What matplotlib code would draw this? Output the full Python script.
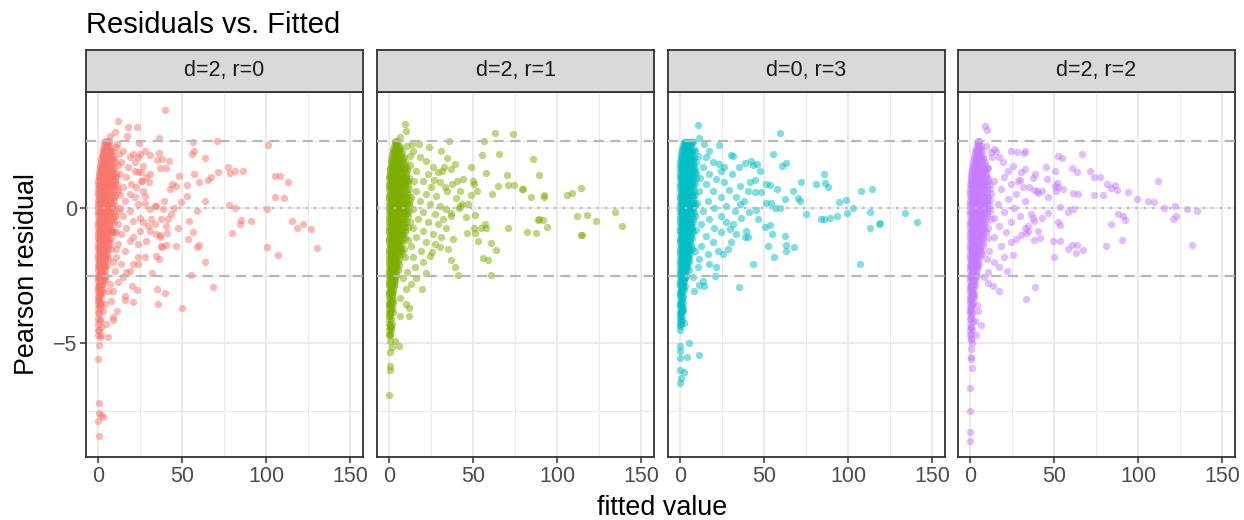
import matplotlib.pyplot as plt

plt.rcParams['font.family'] = ['Liberation Sans', 'DejaVu Sans']

panel_labels = ["d=2, r=0", "d=2, r=1", "d=0, r=3", "d=2, r=2"]
colors = ["#F8766D", "#7CAE00", "#00BFC4", "#C77CFF"]

# dense part near zero, read row by row: (pearson residual, [fitted values])
core_d2r0 = [
    (2.5, [4.2, 5.2, 6.3]), (2.3, [3.5, 4.6, 5.8, 7.2]), (2.1, [2.8, 3.9, 5.1, 6.4, 7.9]),
    (1.9, [2.2, 3.3, 4.5, 5.8, 7.2, 8.8]), (1.7, [1.7, 2.8, 4.0, 5.3, 6.7, 8.2, 10.0]),
    (1.5, [1.2, 2.3, 3.5, 4.8, 6.2, 7.7, 9.4]), (1.3, [0.8, 1.9, 3.1, 4.4, 5.8, 7.3, 8.9, 10.8]),
    (1.1, [0.5, 1.5, 2.7, 4.0, 5.4, 6.9, 8.5, 10.3]), (0.9, [0.2, 1.2, 2.3, 3.6, 5.0, 6.5, 8.1, 9.9]),
    (0.7, [0.0, 1.0, 2.1, 3.3, 4.7, 6.2, 7.8, 9.6, 11.5]), (0.5, [0.2, 1.2, 2.3, 3.6, 5.0, 6.6, 8.3, 10.1]),
    (0.3, [0.0, 1.0, 2.1, 3.3, 4.7, 6.2, 7.9, 9.7]), (0.1, [0.2, 1.2, 2.3, 3.6, 5.0, 6.6, 8.3, 10.2]),
    (-0.1, [0.0, 1.0, 2.1, 3.3, 4.7, 6.2, 7.8, 9.6]), (-0.3, [0.2, 1.2, 2.3, 3.6, 5.0, 6.5, 8.2, 10.0]),
    (-0.5, [0.0, 1.0, 2.1, 3.3, 4.6, 6.1, 7.7, 9.4]), (-0.7, [0.2, 1.2, 2.3, 3.5, 4.9, 6.4, 8.0]),
    (-0.9, [0.0, 1.0, 2.0, 3.2, 4.5, 6.0, 7.5, 9.2]), (-1.1, [0.2, 1.1, 2.2, 3.4, 4.7, 6.2, 7.8]),
    (-1.3, [0.0, 1.0, 2.0, 3.1, 4.4, 5.8, 7.3]), (-1.5, [0.2, 1.1, 2.1, 3.3, 4.6, 6.0, 7.6]),
    (-1.7, [0.0, 1.0, 1.9, 3.0, 4.2, 5.6]), (-1.9, [0.2, 1.1, 2.0, 3.1, 4.4, 5.8]),
    (-2.1, [0.0, 0.9, 1.8, 2.9, 4.1, 5.3]), (-2.3, [0.2, 1.0, 1.9, 3.0, 4.2]),
    (-2.5, [0.0, 0.9, 1.7, 2.7, 3.8, 5.0]), (-2.7, [0.2, 1.0, 1.8, 2.8, 3.9]),
    (-2.9, [0.0, 0.9, 1.6, 2.6]), (-3.1, [0.2, 1.0, 1.8, 2.8]), (-3.3, [0.0, 0.9, 1.6]),
    (-3.5, [0.2, 1.0, 1.9]), (-3.7, [0.0, 1.2]), (-3.9, [0.2, 0.9]), (-4.1, [0.0, 1.0]),
    (-4.3, [0.2]), (-4.5, [0.0, 0.8]), (-4.7, [0.2]),
]
core2_d2r0 = [
    (2.4, [3.9, 4.9, 6.0]), (2.2, [3.1, 4.2, 5.4, 6.8]), (2.0, [2.5, 3.6, 4.8, 6.1, 7.6]),
    (1.8, [1.9, 3.0, 4.2, 5.5, 7.0, 8.6]), (1.6, [1.4, 2.5, 3.7, 5.0, 6.4, 8.0]),
    (1.4, [1.0, 2.1, 3.3, 4.6, 6.0, 7.5, 9.2]), (1.2, [0.6, 1.7, 2.9, 4.2, 5.6, 7.1, 8.7]),
    (1.0, [0.3, 1.4, 2.5, 3.8, 5.2, 6.7, 8.3, 10.0]), (0.8, [0.6, 1.6, 2.8, 4.2, 5.7, 7.2, 8.9]),
    (0.6, [0.1, 1.1, 2.2, 3.5, 4.9, 6.4, 8.0]), (0.4, [0.6, 1.6, 2.8, 4.2, 5.7, 7.2, 8.9]),
    (0.2, [0.1, 1.1, 2.2, 3.5, 4.9, 6.4, 8.0]), (0.0, [0.6, 1.6, 2.8, 4.2, 5.7, 7.2, 8.9]),
    (-0.2, [0.1, 1.1, 2.2, 3.5, 4.9, 6.4, 8.0]), (-0.4, [0.6, 1.6, 2.8, 4.2, 5.7, 7.2, 8.8]),
    (-0.6, [0.1, 1.1, 2.2, 3.5, 4.9, 6.4]), (-0.8, [0.6, 1.6, 2.7, 4.0, 5.4, 6.9, 8.5]),
    (-1.0, [0.1, 1.1, 2.1, 3.3, 4.7, 6.2]), (-1.2, [0.6, 1.5, 2.6, 3.8, 5.1, 6.5]),
    (-1.4, [0.1, 1.0, 2.0, 3.2, 4.5, 5.9]), (-1.6, [0.6, 1.5, 2.5, 3.7, 4.9]),
    (-1.8, [0.1, 1.0, 2.0, 3.1, 4.3, 5.6]), (-2.0, [0.6, 1.5, 2.5, 3.6]),
    (-2.2, [0.1, 1.0, 1.9, 3.0, 4.1]), (-2.4, [0.5, 1.4, 2.3, 3.3]),
    (-2.6, [0.1, 0.9, 1.8, 2.8]), (-2.8, [0.5, 1.3, 2.2]), (-3.0, [0.1, 0.9, 1.8]),
    (-3.2, [0.5, 1.4]), (-3.4, [0.1, 0.9]), (-3.6, [0.5, 1.4]),
]
spread_d2r0 = [
    (40.0, 3.64), (12.1, 3.21), (17.7, 3.02), (23.4, 3.01), (9.9, 2.83), (6.9, 2.68),
    (17.1, 2.68), (36.5, 2.59), (24.4, 2.41), (11.1, 2.37), (56.3, 2.46), (70.6, 2.49),
    (101.2, 2.32), (56.9, 2.12), (55.9, 2.02), (36.1, 2.04), (28.2, 2.12), (30.8, 1.96),
    (25.2, 2.02), (63.7, 1.84), (35.3, 1.78), (38.1, 1.81), (42.3, 1.74), (36.7, 1.48),
    (40.3, 1.49), (77.6, 1.53), (81.3, 1.38), (86.1, 1.38), (78.4, 1.30), (71.2, 1.35),
    (67.5, 1.16), (65.5, 1.05), (60.3, 0.98), (57.3, 1.25), (48.0, 1.17), (43.8, 0.90),
    (46.4, 0.80), (42.7, 0.72), (53.2, 0.86), (53.2, 0.44), (49.4, 0.22), (63.9, 0.26),
    (105.2, 1.19), (108.3, 1.20), (113.3, 0.96), (105.2, 0.42), (110.9, 0.38), (31.2, 1.26),
    (26.0, 0.99), (39.5, 0.25), (45.2, 0.02), (58.9, -0.12), (78.0, 0.12), (81.3, 0.02),
    (100.6, -0.02), (85.1, -0.43), (84.3, -0.60), (91.3, -0.48), (80.0, -0.91), (115.5, -0.49),
    (118.3, -0.72), (122.2, -0.60), (126.9, -0.79), (130.2, -1.47), (100.4, -1.44), (107.0, -1.73),
    (54.4, -0.49), (47.8, -0.74), (56.3, -0.88), (53.4, -1.15), (58.9, -1.43), (60.1, -1.37),
    (46.4, -1.40), (63.9, -2.01), (40.3, -1.37), (37.9, -1.44), (36.3, -1.89), (34.3, -1.78),
    (55.4, -2.48), (68.7, -2.91), (49.8, -3.69), (32.1, -2.41), (35.1, -3.01), (40.1, -3.14),
    (35.5, -3.57), (23.4, -3.02), (20.2, -2.88), (21.0, -3.48), (15.9, -3.26), (15.9, -3.40),
    (11.5, -3.83), (9.1, -4.02), (9.1, -4.14), (6.2, -4.78), (2.0, -4.69), (1.0, -4.77),
    (0.6, -5.06), (0.0, -5.60), (0.4, -7.22), (0.4, -7.60), (1.6, -7.67), (3.0, -7.75),
    (0.0, -7.88), (0.6, -8.46),
    (23.8, 1.88), (26.8, 1.57), (25.8, 1.32), (28.8, 1.14), (30.2, 0.95), (21.8, 1.69),
    (21.8, 1.38), (23.8, 1.32), (27.8, 0.46), (26.8, 0.64), (27.8, 0.17), (30.8, -0.04),
    (33.7, 0.09), (33.7, -0.59), (31.7, -0.41), (30.8, -0.84), (34.7, -0.96), (36.7, -1.09),
    (37.7, -1.40), (28.8, -1.21), (23.8, -1.33), (20.8, -1.09), (27.8, -1.83), (23.8, -1.83),
    (20.8, -2.07), (18.8, -2.32), (23.8, -2.07), (16.9, -2.38), (14.9, -2.57), (24.8, -0.35),
    (26.8, -0.53), (29.8, -0.65), (37.7, -0.41), (40.7, -0.65), (41.3, -0.94), (36.7, -0.99),
    (43.7, -0.22), (41.7, -0.41), (38.7, -0.04), (34.7, 0.09),
    (10.9, 2.25), (14.9, 2.12), (18.8, 1.88), (13.9, 1.69), (17.9, 1.51), (20.8, 2.00),
    (12.9, 1.26), (16.9, 1.14), (19.8, 0.89), (14.9, 0.77), (11.9, 0.64), (18.8, 0.52),
    (15.9, 0.27), (21.8, 0.40), (12.9, 0.02), (18.8, -0.10), (23.8, 0.15), (14.9, -0.28),
    (20.8, -0.47), (11.9, -0.59), (16.9, -0.72), (13.9, -0.96), (18.8, -1.21), (11.9, -1.33),
    (15.9, -1.58), (10.9, -1.83), (13.9, -2.07), (9.9, -2.32), (11.9, -2.75), (8.9, -3.06),
    (7.9, -3.43), (24.8, -0.84), (22.8, 0.77), (25.8, 1.01),
    (4.0, -3.56), (6.0, -3.06), (3.0, -3.80), (1.0, -4.17), (5.0, -4.30), (2.0, -4.42),
    (6.9, -2.81), (4.0, -2.63), (9.5, 1.80), (10.5, 1.20), (9.8, 0.40), (10.2, -0.30),
    (9.5, -0.90), (10.8, -1.50), (9.0, -2.00), (12.0, 1.60), (11.5, 0.90), (12.5, -0.10),
    (11.0, -0.90), (13.0, 0.50), (8.8, 2.10), (12.5, 2.00),
]

core_d2r1 = [
    (2.5, [3.8, 4.6]), (2.3, [3.0, 4.1, 5.4, 6.8]), (2.1, [2.3, 3.4, 4.7, 6.1, 7.7]),
    (1.9, [1.7, 2.8, 4.1, 5.5, 7.0, 8.7]), (1.7, [1.2, 2.3, 3.5, 4.9, 6.4, 8.0, 9.8]),
    (1.5, [0.8, 1.8, 3.0, 4.3, 5.8, 7.4, 9.1, 11.0]), (1.3, [0.5, 1.5, 2.6, 3.9, 5.3, 6.8, 8.5, 10.3]),
    (1.1, [0.2, 1.2, 2.3, 3.6, 5.0, 6.5, 8.1, 9.9, 11.9]),
    (0.9, [0.0, 1.0, 2.1, 3.3, 4.7, 6.2, 7.8, 9.6, 11.4]),
    (0.7, [0.2, 1.2, 2.3, 3.6, 5.0, 6.6, 8.3, 10.1, 12.2]),
    (0.5, [0.0, 1.0, 2.1, 3.3, 4.7, 6.2, 7.9, 9.7, 11.6]),
    (0.3, [0.2, 1.2, 2.3, 3.6, 5.0, 6.6, 8.3, 10.2, 12.3]),
    (0.1, [0.0, 1.0, 2.1, 3.3, 4.7, 6.2, 7.9, 9.7, 11.7]),
    (-0.1, [0.2, 1.2, 2.3, 3.6, 5.0, 6.5, 8.2, 10.0, 12.0]),
    (-0.3, [0.0, 1.0, 2.1, 3.3, 4.7, 6.2, 7.8, 9.6, 11.5]),
    (-0.5, [0.2, 1.2, 2.3, 3.5, 4.9, 6.4, 8.1, 9.9]),
    (-0.7, [0.0, 1.0, 2.1, 3.3, 4.6, 6.1, 7.7, 9.4, 11.3]),
    (-0.9, [0.2, 1.1, 2.2, 3.4, 4.8, 6.3, 7.9, 9.7]), (-1.1, [0.0, 1.0, 2.0, 3.2, 4.5, 6.0, 7.6, 9.3]),
    (-1.3, [0.2, 1.1, 2.2, 3.4, 4.7, 6.2, 7.8]), (-1.5, [0.0, 1.0, 2.0, 3.1, 4.4, 5.8, 7.3, 9.0]),
    (-1.7, [0.2, 1.1, 2.1, 3.3, 4.6, 6.0, 7.5]), (-1.9, [0.0, 1.0, 1.9, 3.0, 4.3, 5.7]),
    (-2.1, [0.2, 1.1, 2.0, 3.1, 4.4, 5.8]), (-2.3, [0.0, 0.9, 1.8, 2.9, 4.1, 5.4]),
    (-2.5, [0.2, 1.0, 1.9, 3.0, 4.2]), (-2.7, [0.0, 0.9, 1.8, 2.8, 3.9]),
    (-2.9, [0.2, 1.0, 1.9, 2.9]), (-3.1, [0.0, 0.9, 1.7, 2.7]), (-3.3, [0.2, 1.0, 1.9]),
    (-3.5, [0.0, 0.9, 1.8, 2.7]), (-3.7, [0.2, 1.0, 1.9]), (-3.9, [0.0, 0.9]),
    (-4.1, [0.2, 1.1]), (-4.3, [0.0, 0.9, 1.8]), (-4.5, [0.2, 1.0]), (-4.7, [0.0, 0.8]),
]
core2_d2r1 = [
    (2.4, [3.4, 4.4]), (2.2, [2.7, 3.8, 5.0, 6.4]), (2.0, [2.0, 3.1, 4.4, 5.8, 7.3]),
    (1.8, [1.5, 2.6, 3.8, 5.2, 6.7, 8.3]), (1.6, [1.0, 2.1, 3.3, 4.6, 6.1, 7.7, 9.4]),
    (1.4, [0.6, 1.7, 2.8, 4.1, 5.6, 7.1, 8.8, 10.6]), (1.2, [0.3, 1.4, 2.5, 3.8, 5.2, 6.7, 8.3, 10.1]),
    (1.0, [0.6, 1.6, 2.8, 4.2, 5.7, 7.3, 9.0, 10.8]), (0.8, [0.1, 1.1, 2.2, 3.5, 4.9, 6.4, 8.0, 9.8]),
    (0.6, [0.6, 1.6, 2.8, 4.2, 5.7, 7.3, 9.0, 10.9]), (0.4, [0.1, 1.1, 2.2, 3.5, 4.9, 6.4, 8.1, 9.9]),
    (0.2, [0.6, 1.6, 2.8, 4.2, 5.7, 7.3, 9.0, 10.9]), (0.0, [0.1, 1.1, 2.2, 3.5, 4.9, 6.4, 8.1, 9.9]),
    (-0.2, [0.6, 1.6, 2.8, 4.2, 5.7, 7.3, 9.0, 10.8]), (-0.4, [0.1, 1.1, 2.2, 3.5, 4.9, 6.4, 8.0, 9.7]),
    (-0.6, [0.6, 1.6, 2.8, 4.1, 5.6, 7.1, 8.8]), (-0.8, [0.1, 1.1, 2.2, 3.4, 4.8, 6.3, 7.9, 9.6]),
    (-1.0, [0.6, 1.6, 2.7, 4.0, 5.4, 6.9, 8.5]), (-1.2, [0.1, 1.0, 2.1, 3.3, 4.6, 6.1, 7.6]),
    (-1.4, [0.6, 1.5, 2.6, 3.8, 5.1, 6.6]), (-1.6, [0.1, 1.0, 2.0, 3.2, 4.5, 5.9, 7.4]),
    (-1.8, [0.6, 1.5, 2.5, 3.7, 5.0]), (-2.0, [0.1, 1.0, 2.0, 3.1, 4.3, 5.6]),
    (-2.2, [0.6, 1.5, 2.5, 3.6, 4.8]), (-2.4, [0.1, 0.9, 1.8, 2.9, 4.0]),
    (-2.6, [0.5, 1.4, 2.4, 3.4]), (-2.8, [0.1, 0.9, 1.8, 2.8]), (-3.0, [0.5, 1.4, 2.3]),
    (-3.2, [0.1, 0.9, 1.8]), (-3.4, [0.5, 1.4, 2.3]), (-3.6, [0.1, 0.9]), (-3.8, [0.5, 1.4]),
    (-4.0, [0.1, 0.9]), (-4.4, [0.5, 1.4]),
]
spread_d2r1 = [
    (9.5, 3.11), (9.9, 2.86), (6.7, 2.65), (63.1, 2.78), (73.6, 2.75), (35.7, 2.48),
    (56.5, 2.49), (13.5, 2.37), (17.9, 2.37), (23.8, 2.25), (31.0, 2.10), (34.7, 1.84),
    (39.1, 1.65), (55.4, 1.95), (65.3, 2.01), (85.5, 1.80), (48.6, 1.52), (57.7, 1.30),
    (70.0, 1.23), (89.3, 1.22), (71.0, 0.86), (74.4, 0.86), (64.7, 0.83), (79.4, 0.70),
    (79.8, 0.70), (84.5, 0.40), (92.5, 0.48), (92.5, 0.40), (105.8, 0.47), (108.7, 0.57),
    (114.5, 0.73), (61.1, 0.52), (50.0, 0.99), (52.2, 0.64), (50.6, 0.89), (48.8, 0.49),
    (47.2, 0.15), (42.1, 0.09), (44.0, 1.07), (40.7, 1.01), (37.7, 0.89), (34.5, 0.64),
    (32.7, 1.53), (31.5, 1.36), (26.6, 1.04), (40.1, 0.37), (43.5, 0.15), (41.7, 0.02),
    (36.7, -0.20), (36.7, -0.31), (45.6, -0.32), (51.0, -0.26), (50.8, -0.72), (54.6, -0.72),
    (57.3, -0.59), (57.7, -0.72), (46.6, -0.93), (51.2, -0.93), (70.6, -0.74), (81.9, -0.88),
    (87.3, -0.93), (88.5, -0.44), (89.3, -0.42), (91.7, -0.43), (94.2, -0.69), (111.7, -0.30),
    (117.9, -0.27), (123.4, -0.48), (134.3, -0.15), (138.9, -0.68), (114.3, -0.99), (114.9, -0.99),
    (53.0, -1.23), (60.9, -1.30), (63.5, -1.54), (55.7, -1.86), (58.9, -1.94), (60.5, -2.47),
    (40.9, -2.49), (39.1, -2.17), (36.9, -1.93), (37.9, -1.15), (35.3, -1.53), (30.6, -1.46),
    (25.6, -1.64), (21.8, -2.41), (19.4, -2.99), (16.3, -2.60), (13.1, -2.81), (10.3, -3.00),
    (12.1, -3.99), (12.1, -3.70), (6.7, -3.99), (10.3, -3.56), (5.8, -5.10), (3.4, -4.91),
    (1.6, -5.16), (0.8, -5.32), (0.4, -5.84), (0.4, -6.00), (0.0, -6.93), (0.4, -4.42),
    (0.8, -4.67), (0.4, -4.91), (2.4, -3.86), (6.3, -3.33),
    (14.3, 2.12), (18.3, 1.88), (22.2, 1.75), (26.2, 1.51), (29.2, 1.32), (23.2, 1.26),
    (20.2, 1.01), (30.2, 0.95), (25.2, 0.77), (33.1, 0.77), (16.3, 0.64), (22.2, 0.52),
    (28.2, 0.46), (18.3, 0.27), (24.2, 0.15), (30.2, 0.09), (33.7, -0.04), (14.3, -0.04),
    (20.2, -0.16), (27.2, -0.22), (32.1, -0.41), (17.3, -0.41), (23.2, -0.53), (29.2, -0.59),
    (34.1, -0.72), (14.3, -0.72), (20.2, -0.84), (26.2, -0.96), (31.1, -1.09), (15.9, -1.09),
    (22.2, -1.27), (27.2, -1.33), (13.3, -1.40), (19.2, -1.58), (24.2, -1.77), (14.3, -1.83),
    (20.2, -2.01), (15.3, -2.20), (10.7, -2.38), (12.3, 1.94), (16.3, 1.38), (11.3, 1.01),
    (13.3, 0.40), (37.1, 1.44), (42.1, 0.64), (12.5, 1.60), (11.8, 0.20), (12.8, -0.50),
    (11.5, -1.20), (9.5, -1.80), (8.5, -2.60), (10.8, 2.30), (15.0, 1.00),
]

core_d0r3 = [
    (2.45, [2.6, 3.5, 4.4, 5.3, 6.2, 7.1, 8.0]), (2.3, [1.8, 2.8, 3.9, 5.0, 6.2]),
    (2.1, [1.2, 2.2, 3.3, 4.5, 5.8, 7.2, 8.8]), (1.9, [0.7, 1.7, 2.8, 4.0, 5.3, 6.7, 8.2]),
    (1.7, [0.3, 1.3, 2.4, 3.6, 4.9, 6.3, 7.9, 9.6]), (1.5, [0.1, 1.1, 2.2, 3.4, 4.7, 6.1, 7.6, 9.2]),
    (1.3, [0.0, 1.0, 2.0, 3.2, 4.5, 5.9, 7.4, 9.0]), (1.1, [0.2, 1.1, 2.2, 3.4, 4.7, 6.1, 7.7, 9.4]),
    (0.9, [0.0, 1.0, 2.0, 3.2, 4.5, 5.9, 7.4, 9.0]), (0.7, [0.2, 1.1, 2.2, 3.4, 4.7, 6.1, 7.7]),
    (0.5, [0.0, 1.0, 2.0, 3.2, 4.5, 5.9, 7.4, 9.1]), (0.3, [0.2, 1.1, 2.2, 3.4, 4.7, 6.1, 7.7]),
    (0.1, [0.0, 1.0, 2.0, 3.2, 4.5, 5.9, 7.4, 9.0]), (-0.1, [0.2, 1.1, 2.2, 3.4, 4.7, 6.1, 7.7]),
    (-0.3, [0.0, 1.0, 2.0, 3.2, 4.5, 5.9, 7.4, 9.1]), (-0.5, [0.2, 1.1, 2.2, 3.4, 4.7, 6.1, 7.7]),
    (-0.7, [0.0, 1.0, 2.0, 3.2, 4.5, 5.9, 7.4]), (-0.9, [0.2, 1.1, 2.2, 3.4, 4.7, 6.1, 7.7]),
    (-1.1, [0.0, 1.0, 2.0, 3.2, 4.5, 5.9, 7.4]), (-1.3, [0.2, 1.1, 2.2, 3.4, 4.7, 6.1]),
    (-1.5, [0.0, 1.0, 2.0, 3.1, 4.4, 5.8, 7.3]), (-1.7, [0.2, 1.1, 2.1, 3.3, 4.6, 6.0]),
    (-1.9, [0.0, 1.0, 1.9, 3.0, 4.2, 5.5]), (-2.1, [0.2, 1.0, 1.9, 3.0, 4.2]),
    (-2.3, [0.0, 0.9, 1.8, 2.8, 3.9, 5.1]), (-2.5, [0.2, 1.0, 1.8, 2.8, 3.8]),
    (-2.7, [0.0, 0.9, 1.7, 2.7]), (-2.9, [0.2, 1.0, 1.8, 2.8]), (-3.1, [0.0, 0.9, 1.7]),
    (-3.3, [0.2, 1.0, 1.9]), (-3.5, [0.0, 0.9, 1.7]), (-3.7, [0.2, 1.0, 1.9]),
    (-3.9, [0.0, 0.9]), (-4.1, [0.2, 1.0]), (-4.3, [0.0, 0.9]), (-4.5, [0.2]),
]
core2_d0r3 = [
    (2.4, [2.2, 3.1, 4.0, 4.9, 5.8, 6.7]), (2.2, [1.5, 2.5, 3.6, 4.8, 6.1]),
    (2.0, [0.9, 1.9, 3.0, 4.2, 5.5, 6.9]), (1.8, [0.5, 1.5, 2.6, 3.8, 5.1, 6.5, 8.0]),
    (1.6, [0.2, 1.2, 2.3, 3.5, 4.8, 6.2, 7.7]), (1.4, [0.6, 1.5, 2.6, 3.8, 5.2, 6.7, 8.3]),
    (1.2, [0.1, 1.0, 2.1, 3.3, 4.6, 6.0, 7.5]), (1.0, [0.6, 1.5, 2.6, 3.8, 5.2, 6.7, 8.3]),
    (0.8, [0.1, 1.0, 2.1, 3.3, 4.6, 6.0, 7.5]), (0.6, [0.6, 1.5, 2.6, 3.8, 5.2, 6.7, 8.3]),
    (0.4, [0.1, 1.0, 2.1, 3.3, 4.6, 6.0, 7.5]), (0.2, [0.6, 1.5, 2.6, 3.8, 5.2, 6.7, 8.3]),
    (0.0, [0.1, 1.0, 2.1, 3.3, 4.6, 6.0, 7.5]), (-0.2, [0.6, 1.5, 2.6, 3.8, 5.2, 6.7, 8.2]),
    (-0.4, [0.1, 1.0, 2.1, 3.3, 4.6, 6.0, 7.5]), (-0.6, [0.6, 1.5, 2.6, 3.8, 5.2, 6.6]),
    (-0.8, [0.1, 1.0, 2.1, 3.3, 4.6, 6.0, 7.4]), (-1.0, [0.6, 1.5, 2.6, 3.8, 5.1, 6.5]),
    (-1.2, [0.1, 1.0, 2.0, 3.2, 4.5, 5.9]), (-1.4, [0.6, 1.5, 2.5, 3.7, 5.0, 6.4]),
    (-1.6, [0.1, 1.0, 2.0, 3.1, 4.3, 5.6]), (-1.8, [0.6, 1.5, 2.5, 3.6, 4.8]),
    (-2.0, [0.1, 1.0, 1.9, 2.9, 4.0, 5.2]), (-2.2, [0.5, 1.4, 2.3, 3.4, 4.5]),
    (-2.4, [0.1, 0.9, 1.8, 2.8]), (-2.6, [0.5, 1.3, 2.2, 3.2]), (-2.8, [0.1, 0.9, 1.8]),
    (-3.0, [0.5, 1.3, 2.2]), (-3.2, [0.1, 0.9]), (-3.4, [0.5, 1.3]), (-3.6, [0.1, 0.9]),
    (-3.8, [0.5, 1.3]), (-4.0, [0.1, 0.9]), (-4.2, [0.5]),
]
spread_d0r3 = [
    (10.8, 3.06), (11.6, 2.59), (59.4, 2.79), (23.1, 2.35), (55.6, 2.00), (62.9, 1.68),
    (61.0, 1.56), (30.1, 1.95), (31.3, 1.94), (39.0, 1.68), (42.0, 1.74), (45.6, 1.62),
    (43.2, 1.58), (47.4, 1.38), (34.9, 1.53), (30.7, 1.27), (24.5, 1.38), (44.8, 1.05),
    (41.4, 0.96), (35.5, 0.81), (29.1, 0.67), (40.4, 0.64), (44.8, 0.58), (48.4, 0.58),
    (51.4, 0.89), (53.4, 0.86), (58.0, 0.69), (51.0, 0.19), (54.0, 0.17), (56.8, 0.02),
    (59.8, 0.00), (62.4, 0.33), (67.1, 0.63), (70.3, 0.37), (71.3, 0.28), (72.1, 0.96),
    (74.9, -0.21), (80.9, 0.89), (85.5, 1.26), (86.6, 0.93), (88.2, 0.79), (83.7, -0.42),
    (85.6, -0.40), (89.2, -0.37), (93.2, -0.30), (94.8, 0.21), (99.0, 0.31), (99.2, -0.17),
    (103.2, 0.02), (107.6, 0.64), (114.5, 0.72), (113.1, -0.15), (112.9, -0.73), (118.5, -0.58),
    (119.3, -0.57), (133.9, -0.20), (140.8, -0.52), (107.4, -2.06), (43.2, -2.06), (35.3, -2.91),
    (46.4, -0.41), (45.0, -0.06), (40.9, -0.16), (39.2, -0.84), (40.4, -1.09), (38.8, -1.09),
    (50.8, -0.69), (53.4, -0.63), (54.6, -0.96), (62.7, -1.04), (62.9, -1.37), (62.9, -1.58),
    (67.7, -1.46), (52.6, -1.40), (56.2, -1.80), (36.5, -0.35), (35.5, 0.15), (32.5, -0.10),
    (31.5, -0.59), (29.5, -0.78), (33.5, -0.96), (30.1, -1.25), (28.5, -1.52), (25.5, -1.70),
    (21.5, -2.20), (21.1, -2.51), (13.5, -2.69), (14.3, -2.90), (11.6, -2.85), (8.6, -3.06),
    (5.6, -5.01), (4.4, -5.53), (11.2, -5.43), (0.0, -5.11), (0.0, -5.30), (0.0, -5.56),
    (0.0, -6.00), (2.2, -6.06), (0.4, -6.30), (0.0, -6.48), (0.0, -4.36), (2.6, -4.26),
    (0.6, -4.17), (2.0, -3.80), (0.8, -3.86),
    (15.5, 1.88), (19.5, 1.69), (23.5, 1.63), (13.5, 1.51), (17.5, 1.26), (21.5, 1.07),
    (26.5, 0.95), (15.5, 0.89), (11.6, 0.64), (19.5, 0.64), (24.5, 0.40), (16.5, 0.27),
    (27.5, 0.09), (20.5, 0.02), (13.5, -0.10), (24.5, -0.28), (17.5, -0.41), (27.5, -0.53),
    (12.5, -0.59), (20.5, -0.72), (24.5, -0.90), (15.5, -1.02), (19.5, -1.27), (12.5, -1.40),
    (22.5, -1.58), (16.5, -1.70), (11.6, -1.89), (17.5, -2.07), (10.6, -2.20), (7.6, -2.57),
    (14.5, 2.37), (17.5, 2.12), (10.6, 1.94), (26.5, 1.51), (33.5, 0.42), (38.4, 0.27),
    (9.5, 1.30), (10.0, 0.20), (9.8, -0.80), (9.0, -1.60), (8.5, 2.20), (12.0, 1.10),
]

core_d2r2 = [
    (2.5, [4.8, 5.6]), (2.3, [4.0, 5.1, 6.3]), (2.1, [3.2, 4.4, 5.7, 7.1]),
    (1.9, [2.5, 3.7, 5.0, 6.4, 7.9]), (1.7, [1.9, 3.1, 4.4, 5.8, 7.3, 8.9]),
    (1.5, [1.4, 2.6, 3.9, 5.3, 6.8, 8.4, 10.1]), (1.3, [0.9, 2.0, 3.3, 4.7, 6.2, 7.8, 9.5]),
    (1.1, [0.5, 1.6, 2.8, 4.2, 5.7, 7.3, 9.0, 10.9]), (0.9, [0.2, 1.3, 2.5, 3.8, 5.3, 6.9, 8.6, 10.4]),
    (0.7, [0.0, 1.1, 2.3, 3.6, 5.0, 6.6, 8.3, 10.1, 12.0]),
    (0.5, [0.2, 1.2, 2.4, 3.7, 5.2, 6.8, 8.5, 10.3]),
    (0.3, [0.0, 1.0, 2.2, 3.5, 4.9, 6.5, 8.2, 10.0, 11.9]),
    (0.1, [0.2, 1.2, 2.4, 3.7, 5.1, 6.7, 8.4, 10.2]),
    (-0.1, [0.0, 1.0, 2.2, 3.5, 4.9, 6.4, 8.1, 9.9, 11.8]),
    (-0.3, [0.2, 1.2, 2.3, 3.6, 5.0, 6.6, 8.3, 10.1]), (-0.5, [0.0, 1.0, 2.1, 3.4, 4.8, 6.3, 8.0, 9.8]),
    (-0.7, [0.2, 1.2, 2.3, 3.6, 5.0, 6.5, 8.2]), (-0.9, [0.0, 1.0, 2.1, 3.3, 4.7, 6.2, 7.8, 9.5]),
    (-1.1, [0.2, 1.1, 2.2, 3.4, 4.8, 6.3, 8.0]), (-1.3, [0.0, 1.0, 2.0, 3.2, 4.5, 6.0, 7.6]),
    (-1.5, [0.2, 1.1, 2.1, 3.3, 4.7, 6.1]), (-1.7, [0.0, 1.0, 2.0, 3.1, 4.4, 5.8, 7.3]),
    (-1.9, [0.2, 1.1, 2.1, 3.2, 4.5]), (-2.1, [0.0, 0.9, 1.9, 3.0, 4.2, 5.5]),
    (-2.3, [0.2, 1.0, 2.0, 3.1, 4.3]), (-2.5, [0.0, 0.9, 1.8, 2.9, 4.0]),
    (-2.7, [0.2, 1.0, 1.9, 2.9]), (-2.9, [0.0, 0.9, 1.8, 2.8]), (-3.1, [0.2, 1.0, 1.9]),
    (-3.3, [0.0, 0.9, 1.8, 2.7]), (-3.5, [0.2, 1.0, 1.9]), (-3.7, [0.0, 0.9]),
    (-3.9, [0.2, 1.1]), (-4.1, [0.0, 0.9]), (-4.3, [0.2]), (-4.5, [0.0, 1.0]),
    (-4.7, [0.2]), (-4.9, [0.5]),
]
core2_d2r2 = [
    (2.4, [4.4, 5.3]), (2.2, [3.6, 4.8, 6.0]), (2.0, [2.9, 4.0, 5.3, 6.7]),
    (1.8, [2.2, 3.4, 4.7, 6.1, 7.6]), (1.6, [1.7, 2.9, 4.2, 5.6, 7.1, 8.7]),
    (1.4, [1.2, 2.3, 3.6, 5.0, 6.5, 8.1, 9.8]), (1.2, [0.7, 1.8, 3.1, 4.5, 6.0, 7.6, 9.3]),
    (1.0, [0.4, 1.5, 2.7, 4.1, 5.6, 7.2, 8.9, 10.7]), (0.8, [0.6, 1.7, 2.9, 4.3, 5.8, 7.4, 9.2]),
    (0.6, [0.1, 1.1, 2.3, 3.6, 5.1, 6.7, 8.4, 10.2]), (0.4, [0.6, 1.7, 2.9, 4.3, 5.8, 7.4, 9.2, 11.0]),
    (0.2, [0.1, 1.1, 2.3, 3.6, 5.1, 6.7, 8.4, 10.2]), (0.0, [0.6, 1.7, 2.9, 4.3, 5.8, 7.4, 9.2]),
    (-0.2, [0.1, 1.1, 2.3, 3.6, 5.1, 6.7, 8.4, 10.2]), (-0.4, [0.6, 1.7, 2.9, 4.3, 5.8, 7.4, 9.1]),
    (-0.6, [0.1, 1.1, 2.3, 3.6, 5.0, 6.6, 8.3]), (-0.8, [0.6, 1.6, 2.8, 4.1, 5.6, 7.1, 8.8]),
    (-1.0, [0.1, 1.1, 2.2, 3.4, 4.8, 6.3, 7.9]), (-1.2, [0.6, 1.6, 2.7, 3.9, 5.3, 6.8]),
    (-1.4, [0.1, 1.0, 2.1, 3.3, 4.6, 6.0, 7.5]), (-1.6, [0.6, 1.5, 2.6, 3.8, 5.1, 6.5]),
    (-1.8, [0.1, 1.0, 2.0, 3.2, 4.4, 5.7]), (-2.0, [0.6, 1.5, 2.5, 3.6, 4.8]),
    (-2.2, [0.1, 1.0, 1.9, 3.0, 4.1]), (-2.4, [0.5, 1.4, 2.4, 3.4]), (-2.6, [0.1, 0.9, 1.8, 2.8]),
    (-2.8, [0.5, 1.4, 2.3]), (-3.0, [0.1, 0.9, 1.8]), (-3.2, [0.5, 1.4, 2.3]), (-3.4, [0.1, 0.9]),
    (-3.6, [0.5, 1.4]), (-3.8, [0.1, 0.9]), (-4.0, [0.5]), (-4.4, [0.5]), (-4.8, [0.4]),
]
spread_d2r2 = [
    (9.2, 3.05), (10.2, 2.90), (14.1, 2.19), (12.5, 2.09), (27.9, 2.06), (32.5, 2.10),
    (32.1, 2.05), (52.2, 1.93), (55.0, 1.85), (66.5, 2.02), (45.4, 1.51), (50.8, 1.36),
    (60.8, 1.49), (63.7, 1.32), (71.7, 1.36), (74.1, 1.16), (77.3, 1.16), (81.5, 0.90),
    (83.9, 0.74), (86.3, 0.86), (87.5, 0.67), (93.8, 0.60), (99.6, 0.32), (112.0, 0.99),
    (106.2, 0.28), (109.8, 0.23), (115.7, 0.02), (122.1, 0.06), (128.9, -0.05), (135.3, -0.12),
    (120.9, -0.40), (122.7, -0.31), (132.1, -1.36), (88.2, -0.22), (90.8, -0.28), (92.4, -0.44),
    (83.9, -0.59), (90.2, -1.20), (80.7, -1.41), (73.7, 0.49), (78.9, 0.49), (67.5, -1.56),
    (62.9, -1.65), (63.5, -1.35), (60.6, -1.37), (58.6, -1.53), (53.4, -1.21), (50.2, -1.81),
    (49.2, -1.23), (53.4, -0.63), (52.2, -0.51), (58.6, -0.16), (61.5, -0.04), (53.4, 0.04),
    (61.3, 0.56), (64.5, 0.53), (51.0, 0.64), (50.6, 0.83), (52.6, 0.77), (55.6, 0.70),
    (51.6, 0.91), (46.4, 0.40), (42.6, 0.62), (40.6, 0.54), (38.0, 0.68), (40.0, 0.64),
    (37.8, 1.11), (38.8, 1.26), (32.5, 1.44), (30.3, 1.35), (29.7, 1.04), (31.5, 0.77),
    (35.1, 0.79), (45.6, 1.07), (46.4, -0.20), (42.6, -0.35), (37.5, -0.38), (38.0, -0.48),
    (34.5, -0.65), (34.5, -0.86), (40.6, -0.86), (41.6, -1.12), (38.0, -1.19), (33.5, -0.93),
    (30.1, -0.99), (27.5, -1.15), (25.5, -1.74), (21.9, -2.32), (17.3, -3.09), (33.5, -3.37),
    (38.8, -2.94), (13.5, -2.88), (10.6, -2.79), (6.6, -4.33), (3.6, -4.69), (1.0, -4.98),
    (0.6, -5.22), (0.6, -5.53), (0.6, -5.60), (1.0, -5.91), (0.0, -6.67), (0.0, -7.51),
    (0.0, -8.28), (0.0, -8.64), (1.6, -4.17), (3.0, -4.17), (0.6, -4.42), (0.6, -4.67),
    (4.0, -3.59), (4.6, -3.80),
    (17.5, 1.88), (19.5, 1.69), (22.5, 1.38), (25.5, 1.57), (20.5, 1.14), (14.5, 1.01),
    (24.5, 0.89), (18.5, 0.70), (27.5, 0.52), (12.5, 0.52), (22.5, 0.33), (16.5, 0.15),
    (26.5, 0.02), (10.6, -0.04), (20.5, -0.16), (29.5, -0.28), (14.5, -0.35), (24.5, -0.53),
    (17.5, -0.65), (10.6, -0.72), (21.5, -0.90), (14.5, -1.09), (24.5, -1.27), (18.5, -1.40),
    (11.6, -1.58), (20.5, -1.83), (14.5, -2.01), (17.5, -2.20), (10.6, -2.38), (8.6, -2.57),
    (15.5, 2.12), (24.5, 2.12), (28.5, 1.01), (32.5, 0.27), (36.5, -0.22), (32.5, -0.72),
    (11.0, 1.50), (12.0, 0.90), (11.5, 0.10), (12.5, -0.40), (11.0, -1.10), (10.0, -1.90),
    (13.0, 1.90), (9.5, 2.30),
]

cores = [core_d2r0 + core2_d2r0, core_d2r1 + core2_d2r1,
         core_d0r3 + core2_d0r3, core_d2r2 + core2_d2r2]
spreads = [spread_d2r0, spread_d2r1, spread_d0r3, spread_d2r2]

W, H = 1244, 520
fig = plt.figure(figsize=(W / 100, H / 100), dpi=100)

lefts = [86, 377, 668, 958]
pw = 277
p_top, p_bot, s_top = 91.7, 457, 49.5

for i in range(4):
    ax = fig.add_axes([lefts[i] / W, 1 - p_bot / H, pw / W, (p_bot - p_top) / H])
    xs = [x for y, row in cores[i] for x in row] + [p[0] for p in spreads[i]]
    ys = [y for y, row in cores[i] for _ in row] + [p[1] for p in spreads[i]]
    ax.scatter(xs, ys, s=28, color=colors[i], alpha=0.5, linewidths=0, zorder=2)

    ax.axhline(2.5, color="#B8B8B8", lw=1.6, dashes=(4.5, 3), zorder=3)
    ax.axhline(-2.5, color="#B8B8B8", lw=1.6, dashes=(4.5, 3), zorder=3)
    ax.axhline(0, color="#B8B8B8", lw=1.6, dashes=(1, 2.8), zorder=3)

    ax.set_xlim(-7.1, 157.7)
    ax.set_ylim(-9.22, 4.31)
    ax.set_xticks([0, 50, 100, 150])
    ax.set_xticks([25, 75, 125], minor=True)
    ax.set_yticks([-5, 0])
    ax.set_yticks([-7.5, -2.5, 2.5], minor=True)
    ax.set_axisbelow(True)
    ax.grid(which="major", color="#EBEBEB", lw=1.5)
    ax.grid(which="minor", color="#EBEBEB", lw=0.8)
    ax.tick_params(which="minor", length=0)
    ax.tick_params(which="major", length=4, width=1.1, color="#333333",
                   labelsize=15.5, labelcolor="#4D4D4D", pad=2.5)
    if i > 0:
        ax.tick_params(axis="y", which="both", left=False, labelleft=False)
    for sp in ax.spines.values():
        sp.set_color("#333333")
        sp.set_linewidth(1.3)

    st = fig.add_axes([lefts[i] / W, 1 - p_top / H, pw / W, (p_top - s_top) / H])
    st.set_facecolor("#D9D9D9")
    st.set_xticks([])
    st.set_yticks([])
    for sp in st.spines.values():
        sp.set_color("#333333")
        sp.set_linewidth(1.3)
    st.text(0.5, 0.5, panel_labels[i], ha="center", va="center",
            fontsize=15.5, color="#1A1A1A", transform=st.transAxes)

fig.text(86 / W, 1 - 33 / H, "Residuals vs. Fitted", fontsize=21, va="baseline", ha="left")
fig.text(27 / W, 1 - 274 / H, "Pearson residual", fontsize=19.4, rotation=90,
         ha="center", va="center")
fig.text(662 / W, 1 - 508 / H, "fitted value", fontsize=19.4, ha="center", va="center")

plt.savefig("out.png", dpi=100)
